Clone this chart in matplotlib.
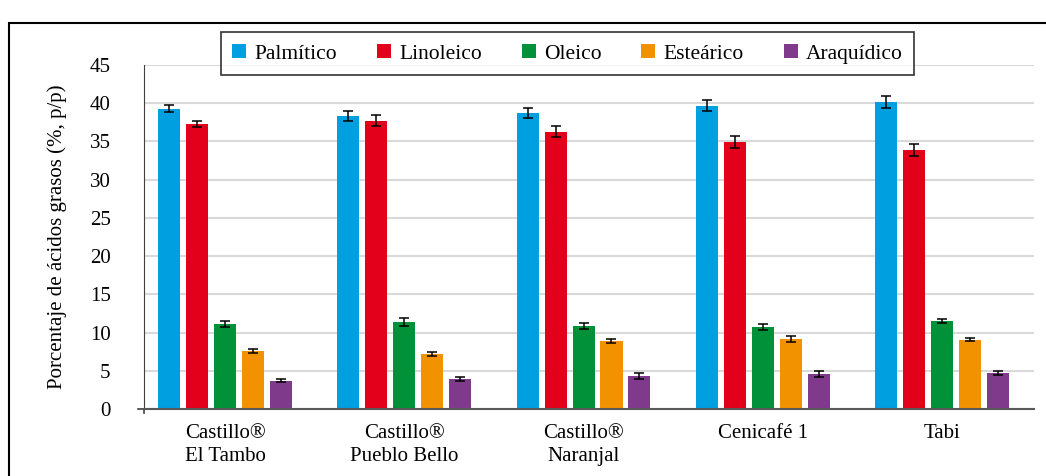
import matplotlib
matplotlib.use("Agg")
import matplotlib.pyplot as plt
import numpy as np
from matplotlib.patches import Rectangle

plt.rcParams['font.family'] = ['Liberation Serif', 'DejaVu Serif']

categories = ["Castillo®\nEl Tambo", "Castillo®\nPueblo Bello", "Castillo®\nNaranjal",
              "Cenicafé 1", "Tabi"]
series = ["Palmítico", "Linoleico", "Oleico", "Esteárico", "Araquídico"]
colors = ["#009FE0", "#E2001A", "#009139", "#F39200", "#7F3A8C"]

palmitico = [39.25, 38.33, 38.72, 39.64, 40.16]
linoleico = [37.28, 37.68, 36.24, 34.93, 33.88]
oleico = [11.12, 11.38, 10.86, 10.73, 11.51]
estearico = [7.59, 7.24, 8.90, 9.16, 9.03]
araquidico = [3.71, 3.92, 4.32, 4.58, 4.71]

err_palmitico = [0.46, 0.65, 0.59, 0.72, 0.72]
err_linoleico = [0.35, 0.72, 0.72, 0.81, 0.83]
err_oleico = [0.35, 0.46, 0.35, 0.44, 0.28]
err_estearico = [0.22, 0.28, 0.28, 0.35, 0.20]
err_araquidico = [0.24, 0.28, 0.35, 0.33, 0.20]

values = [palmitico, linoleico, oleico, estearico, araquidico]
errors = [err_palmitico, err_linoleico, err_oleico, err_estearico, err_araquidico]

fig = plt.figure(figsize=(10.46, 4.76), dpi=100)
ax = fig.add_axes([144 / 1046, 1 - 409 / 476, (1034 - 144) / 1046, (409 - 65) / 476])

x = np.arange(len(categories))
pitch = 0.156
width = 0.123
for i, (name, vals, errs, c) in enumerate(zip(series, values, errors, colors)):
    ax.bar(x + (i - 2) * pitch, vals, width, color=c, label=name, zorder=2,
           yerr=errs, capsize=3.6,
           error_kw=dict(ecolor="black", elinewidth=1.1, capthick=1.1, zorder=3))

ax.set_ylim(0, 45)
ax.set_xlim(-0.452, 4.513)
ax.set_yticks(range(0, 46, 5))
ax.yaxis.grid(True, color="#D9D9D9", linewidth=1.5, zorder=0)
ax.set_axisbelow(True)
ax.set_xticks(x)
ax.set_xticklabels(categories, fontsize=15, linespacing=1.3, va="top")
ax.tick_params(axis="x", length=0, pad=11)
ax.tick_params(axis="y", length=0, labelsize=15, pad=24)
for s in ["top", "right"]:
    ax.spines[s].set_visible(False)
ax.spines["left"].set_color("#404040")
ax.spines["bottom"].set_color("#595959")
ax.spines["bottom"].set_linewidth(1.5)
# small cross where the axes meet
ax.plot([-0.007, 0], [0, 0], transform=ax.get_yaxis_transform(), color="#404040",
        linewidth=1.2, clip_on=False)
ax.plot([0, 0], [0, -0.5], transform=ax.get_yaxis_transform(), color="#404040",
        linewidth=1.2, clip_on=False)
ax.set_ylabel("Porcentaje de ácidos grasos (%, p/p)", fontsize=15, labelpad=16)

leg = ax.legend(loc="upper center", bbox_to_anchor=(567.5 / 1046, 1 - 32 / 476),
                bbox_transform=fig.transFigure, ncol=5, fontsize=15.5, frameon=True,
                fancybox=False, edgecolor="black", handlelength=0.65, handleheight=0.65,
                handletextpad=0.37, columnspacing=1.86, borderpad=0.55,
                borderaxespad=0)
leg.get_frame().set_linewidth(1.2)

fig.patches.append(Rectangle((9 / 1046, -0.1), 1.2, 1 - 23 / 476 + 0.1,
                             transform=fig.transFigure, fill=False,
                             edgecolor="black", linewidth=1.5))

fig.savefig("out.png", dpi=100)
